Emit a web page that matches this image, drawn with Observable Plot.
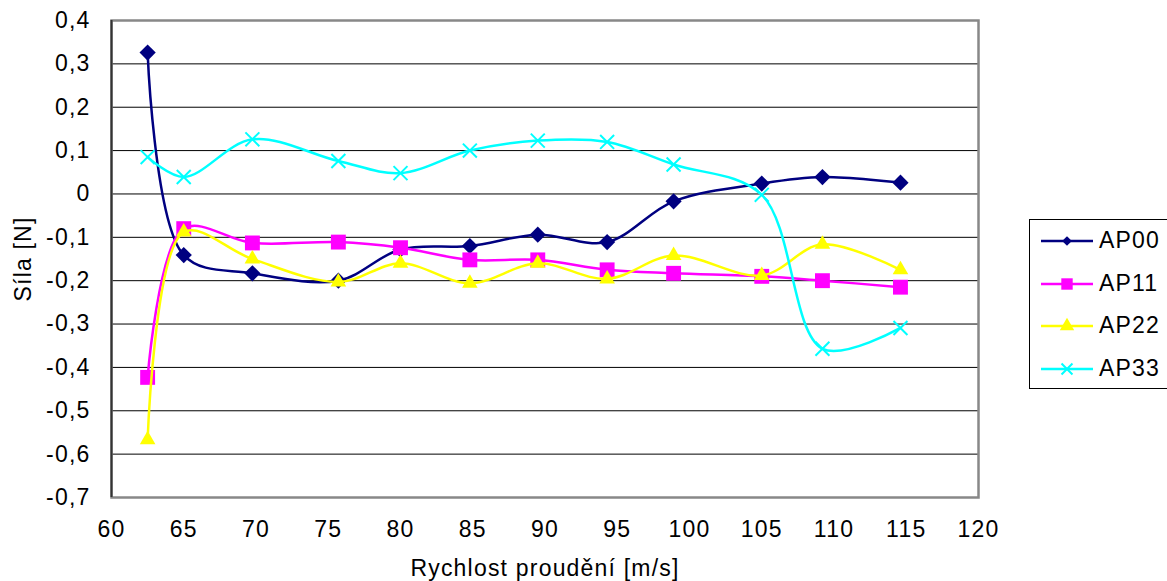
<!DOCTYPE html>
<html>
<head>
<meta charset="utf-8">
<script src="https://cdn.jsdelivr.net/npm/d3@7"></script>
<script src="https://cdn.jsdelivr.net/npm/@observablehq/plot@0.6"></script>
<style>
  body { margin: 0; background: #fff; }
  #wrap { position: relative; width: 1167px; height: 581px; font-family: "Liberation Sans", Arial, sans-serif; }
  #legend { position: absolute; left: 1029px; top: 219px; width: 160px; height: 170px;
            border: 1.5px solid #000; border-right: none; box-sizing: border-box; background: #fff; }
  .row { position: absolute; left: 0; height: 42px; width: 160px; }
  .row svg { position: absolute; left: 0; top: 0; }
  .row span { position: absolute; left: 69px; top: 7px; font-size: 23px; letter-spacing: 1.2px; color: #000; line-height: 27px; }
</style>
</head>
<body>
<div id="wrap"><div id="chart"></div><div id="legend"></div></div>
<script>
// ---- data ----
const speeds = [62.5, 65, 69.75, 75.7, 80, 84.8, 89.5, 94.3, 98.9, 105, 109.2, 114.6];
const ap00 = [0.326, -0.141, -0.183, -0.200, -0.128, -0.120, -0.094, -0.111, -0.017, 0.024, 0.039, 0.026];
const ap11 = [-0.423, -0.080, -0.113, -0.111, -0.124, -0.152, -0.152, -0.175, -0.183, -0.190, -0.200, -0.215];
const ap22 = [-0.567, -0.088, -0.150, -0.203, -0.160, -0.206, -0.160, -0.196, -0.142, -0.188, -0.116, -0.175];
const ap33 = [0.085, 0.039, 0.126, 0.076, 0.048, 0.100, 0.123, 0.120, 0.068, -0.002, -0.357, -0.309];
const seriesNames = ["AP00", "AP11", "AP22", "AP33"];
const seriesValues = [ap00, ap11, ap22, ap33];
const seriesColors = ["#000080", "#FF00FF", "#FFFF00", "#00FFFF"];
const seriesSymbols = ["diamond2", "square", "triangle", "times"];
const xTicks = [60, 65, 70, 75, 80, 85, 90, 95, 100, 105, 110, 115, 120];
const yTicks = [-0.7, -0.6, -0.5, -0.4, -0.3, -0.2, -0.1, 0, 0.1, 0.2, 0.3, 0.4];
const xLabel = "Rychlost proudění [m/s]";
const yLabel = "Síla [N]";

// ---- build ----
const fmtY = d => Math.abs(d) < 1e-9 ? "0" : d.toFixed(1).replace(".", ",");
const dotR = {diamond2: 7.3, square: 8.4, triangle: 5.8, times: 6.4};

const seriesMarks = seriesNames.flatMap((name, i) => {
  const rows = speeds.map((s, j) => ({speed: s, value: seriesValues[i][j]}));
  const sym = seriesSymbols[i];
  const isStroke = sym === "times";
  return [
    Plot.line(rows, {x: "speed", y: "value", stroke: seriesColors[i], strokeWidth: 2.5, curve: "catmull-rom"}),
    Plot.dot(rows, {x: "speed", y: "value", symbol: () => sym, r: dotR[sym],
      fill: isStroke ? "none" : seriesColors[i], stroke: isStroke ? seriesColors[i] : "none", strokeWidth: 2})
  ];
});

const chart = Plot.plot({
  width: 1167, height: 581,
  marginLeft: 111, marginRight: 189, marginTop: 20, marginBottom: 84,
  x: {domain: [60, 120]},
  y: {domain: [-0.7, 0.4]},
  symbol: {type: "identity"},
  style: {fontFamily: '"Liberation Sans", Arial, sans-serif', fontSize: "23px", letterSpacing: "1.2px", background: "#fff", color: "#000", overflow: "visible"},
  marks: [
    Plot.gridY(yTicks, {stroke: "#000", strokeOpacity: 1, strokeWidth: 1}),
    Plot.frame({stroke: "#888", strokeWidth: 2.5}),
    Plot.ruleX([xTicks[0]], {stroke: "#333", strokeWidth: 2}),
    Plot.axisY(yTicks, {tickSize: 0, tickPadding: 21, tickFormat: fmtY, fontSize: 23,
      label: yLabel, labelAnchor: "center", labelArrow: "none", labelOffset: 97}),
    Plot.axisX(xTicks, {tickSize: 0, tickPadding: 23, tickFormat: d => String(d), fontSize: 23,
      label: xLabel, labelAnchor: "center", labelArrow: "none", labelOffset: 78}),
    ...seriesMarks
  ]
});
document.getElementById("chart").appendChild(chart);

// ---- legend ----
const legend = d3.select("#legend");
const legendSize = {diamond2: 60, square: 130, triangle: 90, times: 80};
const symMap = {diamond2: d3.symbolDiamond2, square: d3.symbolSquare, triangle: d3.symbolTriangle, times: d3.symbolTimes};
seriesNames.forEach((name, i) => {
  const row = legend.append("div").attr("class", "row").style("top", (i * 42.5) + "px");
  const svg = row.append("svg").attr("width", 70).attr("height", 42);
  svg.append("line").attr("x1", 11).attr("x2", 63).attr("y1", 21).attr("y2", 21)
    .attr("stroke", seriesColors[i]).attr("stroke-width", 2.5);
  const sym = seriesSymbols[i];
  const isStroke = sym === "times";
  svg.append("path").attr("transform", "translate(37,21)")
    .attr("d", d3.symbol(symMap[sym], legendSize[sym])())
    .attr("fill", isStroke ? "none" : seriesColors[i])
    .attr("stroke", isStroke ? seriesColors[i] : "none").attr("stroke-width", 2);
  row.append("span").text(name);
});
</script>
</body>
</html>
